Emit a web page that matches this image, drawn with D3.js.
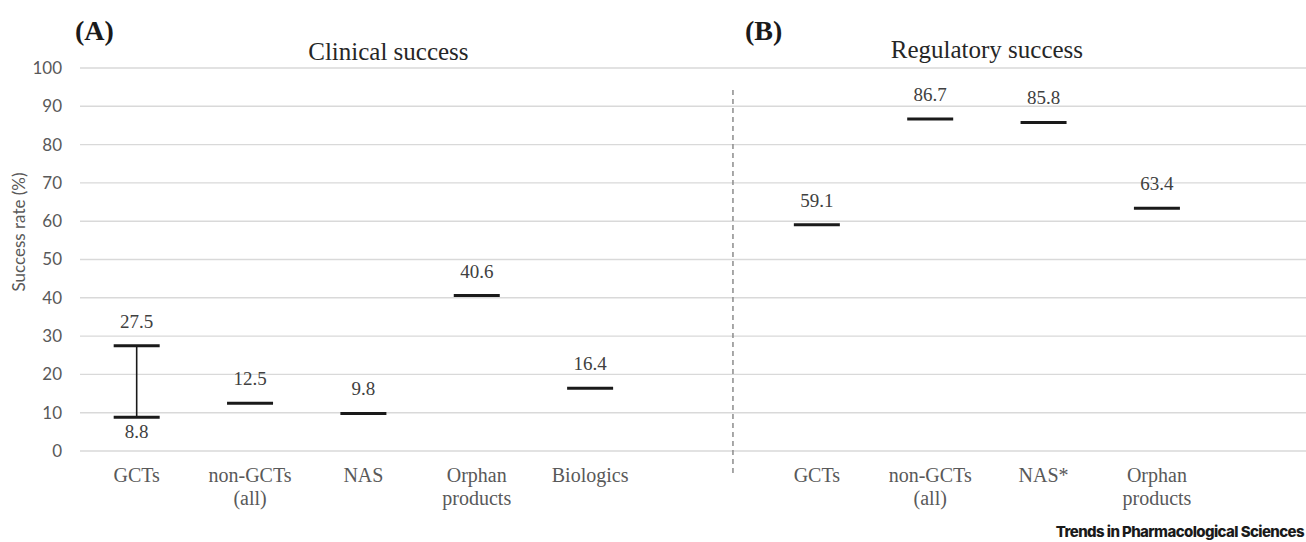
<!DOCTYPE html>
<html>
<head>
<meta charset="utf-8">
<script src="https://cdn.jsdelivr.net/npm/d3@7"></script>
<style>
    body { margin: 0; background: #fff; }
    svg { display: block; }
</style>
</head>
<body>
<svg width="1306" height="542"></svg>
<script>
// Panel A: clinical success
const clinicalCats = ['GCTs', 'non-GCTs|(all)', 'NAS', 'Orphan|products', 'Biologics'];
const clinicalLow = [8.8, 12.5, 9.8, 40.6, 16.4];
const clinicalHigh = [27.5, null, null, null, null];

// Panel B: regulatory success
const regulatoryCats = ['GCTs', 'non-GCTs|(all)', 'NAS*', 'Orphan|products'];
const regulatoryVals = [59.1, 86.7, 85.8, 63.4];

const yTicks = [0, 10, 20, 30, 40, 50, 60, 70, 80, 90, 100];

const svg = d3.select('svg');
const width = +svg.attr('width');

const margin = { left: 80, top: 68, bottom: 451 };
const serif = '"Liberation Serif", "Times New Roman", serif';
const sans = 'Lato, "Open Sans", sans-serif';

// 11 slots: 5 clinical, 1 gap, 4 regulatory, 1 empty
const xScale = d3
    .scaleBand()
    .domain(d3.range(11))
    .range([margin.left, margin.left + 11 * 113.36])
    .padding(0);

const yScale = d3
    .scaleLinear()
    .domain([0, 100])
    .range([margin.bottom, margin.top]);

const cx = i => xScale(i) + xScale.bandwidth() / 2;

// gridlines
svg.append('g')
    .selectAll('line')
    .data(yTicks)
    .enter()
    .append('line')
    .attr('x1', margin.left)
    .attr('x2', width)
    .attr('y1', d => yScale(d))
    .attr('y2', d => yScale(d))
    .attr('stroke', '#d9d9d9')
    .attr('stroke-width', 1.4);

// y axis labels
const yAxis = svg.append('g')
    .attr('transform', `translate(${margin.left - 18},0)`)
    .call(d3.axisLeft(yScale).tickValues(yTicks).tickSize(0).tickPadding(0));
yAxis.select('.domain').remove();
yAxis.selectAll('text')
    .style('font-family', sans)
    .style('font-size', '17px')
    .attr('fill', '#595959');

svg.append('text')
    .attr('transform', 'translate(25,232) rotate(-90)')
    .attr('text-anchor', 'middle')
    .style('font-family', sans)
    .style('font-size', '17px')
    .attr('fill', '#595959')
    .text('Success rate (%)');

// separator between panels
const sepX = xScale(5) + xScale.bandwidth() * 0.76;
svg.append('line')
    .attr('x1', sepX)
    .attr('x2', sepX)
    .attr('y1', 90)
    .attr('y2', 476)
    .attr('stroke', '#8c8c8c')
    .attr('stroke-width', 1.5)
    .attr('stroke-dasharray', '5,4');

// panel titles
svg.append('text')
    .attr('x', 75).attr('y', 40)
    .style('font-family', serif).style('font-size', '28px').style('font-weight', 'bold')
    .attr('fill', '#1a1a1a')
    .text('(A)');
svg.append('text')
    .attr('x', 745).attr('y', 40)
    .style('font-family', serif).style('font-size', '28px').style('font-weight', 'bold')
    .attr('fill', '#1a1a1a')
    .text('(B)');
svg.append('text')
    .attr('x', (cx(0) + cx(4)) / 2 + 25).attr('y', 60)
    .attr('text-anchor', 'middle')
    .style('font-family', serif).style('font-size', '25px')
    .attr('fill', '#262626')
    .text('Clinical success');
svg.append('text')
    .attr('x', (cx(6) + cx(9)) / 2).attr('y', 58)
    .attr('text-anchor', 'middle')
    .style('font-family', serif).style('font-size', '25px')
    .attr('fill', '#262626')
    .text('Regulatory success');

// build marks from both panels
const points = [];
clinicalCats.forEach((c, i) => {
    points.push({ slot: i, cat: c, low: clinicalLow[i], high: clinicalHigh[i] });
});
regulatoryCats.forEach((c, i) => {
    points.push({ slot: i + 6, cat: c, low: regulatoryVals[i], high: null });
});

const half = 23;
const markColor = '#1a1a1a';
const marks = svg.append('g');

// range whisker
marks.selectAll('.whisker')
    .data(points.filter(d => d.high != null))
    .enter()
    .append('line')
    .attr('class', 'whisker')
    .attr('x1', d => cx(d.slot))
    .attr('x2', d => cx(d.slot))
    .attr('y1', d => yScale(d.low))
    .attr('y2', d => yScale(d.high))
    .attr('stroke', markColor)
    .attr('stroke-width', 1.6);

const levels = [];
points.forEach(d => {
    levels.push({ slot: d.slot, v: d.low, below: d.high != null });
    if (d.high != null) levels.push({ slot: d.slot, v: d.high, below: false });
});

marks.selectAll('.level')
    .data(levels)
    .enter()
    .append('line')
    .attr('class', 'level')
    .attr('x1', d => cx(d.slot) - half)
    .attr('x2', d => cx(d.slot) + half)
    .attr('y1', d => yScale(d.v))
    .attr('y2', d => yScale(d.v))
    .attr('stroke', markColor)
    .attr('stroke-width', 3);

marks.selectAll('.val')
    .data(levels)
    .enter()
    .append('text')
    .attr('class', 'val')
    .attr('x', d => cx(d.slot))
    .attr('y', d => yScale(d.v) + (d.below ? 21 : -18))
    .attr('text-anchor', 'middle')
    .style('font-family', serif)
    .style('font-size', '19px')
    .attr('fill', '#404040')
    .text(d => d.v.toFixed(1));

// category labels
const catLabels = svg.append('g')
    .selectAll('text')
    .data(points)
    .enter()
    .append('text')
    .attr('x', d => cx(d.slot))
    .attr('y', 482)
    .attr('text-anchor', 'middle')
    .style('font-family', serif)
    .style('font-size', '20px')
    .attr('fill', '#595959');
catLabels.each(function(d) {
    const lines = d.cat.split('|');
    d3.select(this)
        .selectAll('tspan')
        .data(lines)
        .enter()
        .append('tspan')
        .attr('x', cx(d.slot))
        .attr('dy', (l, j) => (j === 0 ? 0 : 23))
        .text(l => l);
});

// journal credit
svg.append('text')
    .attr('x', width - 2)
    .attr('y', 537)
    .attr('text-anchor', 'end')
    .style('font-family', 'Inter, sans-serif')
    .style('font-size', '15px')
    .style('font-weight', 800)
    .style('letter-spacing', '-0.6px')
    .attr('fill', '#1a1a1a')
    .text('Trends in Pharmacological Sciences');
</script>
</body>
</html>
